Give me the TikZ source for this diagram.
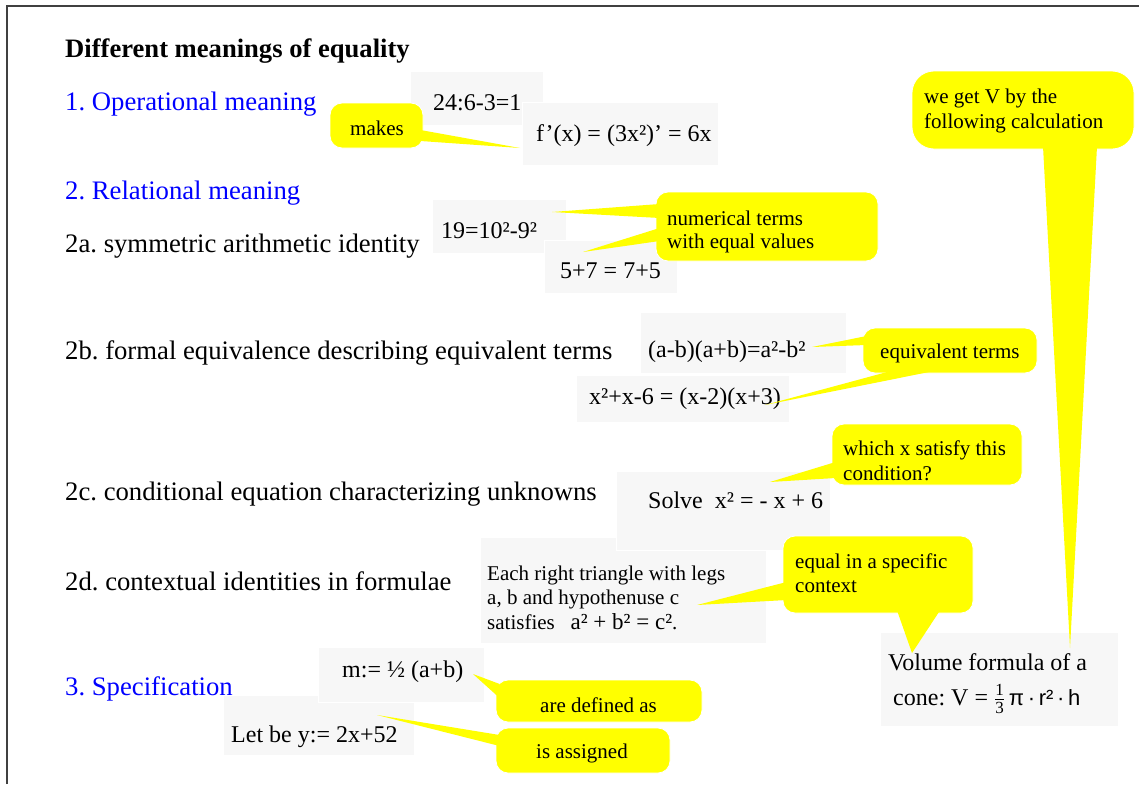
\documentclass[tikz,border=0pt]{standalone}
\usepackage{fontspec}
\setmainfont{Liberation Serif}
\newfontfamily\lsans{Liberation Sans}
\usetikzlibrary{calc}
\definecolor{boxgray}{RGB}{247,247,247}
\definecolor{callyellow}{RGB}{255,255,0}
\definecolor{headblue}{RGB}{0,0,255}
\frenchspacing
\begin{document}
\begin{tikzpicture}[x=1pt,y=-1pt,
  graybox/.style={fill=boxgray, draw=white, line width=1pt, inner sep=0pt},
  callbox/.style={fill=callyellow, draw=white, line width=0.8pt, rounded corners=12pt, inner sep=0pt},
  tail/.style={fill=callyellow},
  txt/.style={anchor=base west, inner sep=0pt, font=\fontsize{24}{28}\selectfont},
  smalltxt/.style={anchor=base west, inner sep=0pt, font=\fontsize{21}{24}\selectfont},
  calltxt/.style={anchor=base west, inner sep=0pt, font=\fontsize{21}{24}\selectfont},
  head/.style={anchor=base west, inner sep=0pt, font=\fontsize{26.7}{30}\selectfont},
  bluehead/.style={head, text=headblue},
  frameline/.style={line width=1.3pt, draw=black!75}
]
\useasboundingbox (0,0) rectangle (1139,784);
\draw[frameline] (7,784) -- (7,6) -- (1139,6);

% headings
\node[head, font=\fontsize{26.6}{30}\selectfont\bfseries] (title) at (65,57) {Different meanings of equality};
\node[bluehead] (h1) at (65,110) {1. Operational meaning};
\node[bluehead] (h2) at (65,199) {2. Relational meaning};
\node[head] (h2a) at (65,252) {2a. symmetric arithmetic identity};
\node[head] (h2b) at (65,359) {2b. formal equivalence describing equivalent terms};
\node[head] (h2c) at (65,500) {2c. conditional equation characterizing unknowns};
\node[head] (h2d) at (65,590) {2d. contextual identities in formulae};
\node[bluehead] (h3) at (65,695) {3. Specification};

% gray boxes
\node[graybox, minimum width=133pt, minimum height=54pt] (bA) at (476.5,98) {};
\node[graybox, minimum width=196pt, minimum height=63pt] (bB) at (620,133.5) {};
\node[graybox, minimum width=134pt, minimum height=54pt] (b19) at (499,226) {};
\node[graybox, minimum width=133pt, minimum height=53pt] (b57) at (610.5,266.5) {};
\node[graybox, minimum width=206pt, minimum height=61pt] (bab) at (743,342.5) {};
\node[graybox, minimum width=213pt, minimum height=47pt] (bx2) at (682.5,398.5) {};
\node[graybox, minimum width=286pt, minimum height=106pt] (btri) at (623,590) {};
\node[graybox, minimum width=214pt, minimum height=79pt] (bsolve) at (723,510.5) {};
\node[graybox, minimum width=191pt, minimum height=60pt] (blet) at (318.5,725) {};
\node[graybox, minimum width=166pt, minimum height=55pt] (bm) at (401,674.5) {};
\node[graybox, minimum width=238pt, minimum height=94pt] (bvol) at (999,679) {};

% box texts
\node[txt] (tA) at (433,110) {24:6-3=1};
\node[txt] (tB) at (536,141) {f’(x) = (3x²)’ = 6x};
\node[txt] (t19) at (441,238) {19=10²-9²};
\node[txt] (t57) at (560,278) {5+7 = 7+5};
\node[txt] (tab) at (648,357) {(a-b)(a+b)=a²-b²};
\node[txt] (tx2) at (589,404) {x²+x-6 = (x-2)(x+3)};
\node[txt] (tsolve) at (648,508) {Solve\ \ x² = - x + 6};
\node[smalltxt] (ttri1) at (487,580) {Each right triangle with legs};
\node[smalltxt] (ttri2) at (487,604) {a, b and hypothenuse c};
\node[smalltxt] (ttri3) at (487,629) {satisfies\ \ \ {\fontsize{23}{26}\selectfont a² + b² = c²}.};
\node[txt] (tm) at (342,677) {m:= ½ (a+b)};
\node[txt] (tlet) at (231,742) {Let be y:= 2x+52};
\node[txt] (tvol1) at (888,670) {Volume formula of a};
\node[txt] (tvol2) at (893,705) {cone: V = $\frac{\mbox{\fontsize{17}{17}\selectfont 1}}{\mbox{\fontsize{17}{17}\selectfont 3}}$\,{\lsans\fontsize{22}{24}\selectfont π\,·\,r²\,·\,h}};

% callout boxes
\node[callbox, minimum width=93pt, minimum height=45pt] (cMakes) at (376.5,125.5) {};
\node[callbox, minimum width=222pt, minimum height=69pt] (cNum) at (767,226.5) {};
\node[callbox, minimum width=174pt, minimum height=45pt] (cEquiv) at (950,350.5) {};
\node[callbox, minimum width=190pt, minimum height=61pt] (cWhich) at (927,454.5) {};
\node[callbox, minimum width=190pt, minimum height=77pt] (cEqual) at (878,574.5) {};
\node[callbox, minimum width=206pt, minimum height=42pt] (cDef) at (599,701) {};
\node[callbox, minimum width=174pt, minimum height=45pt] (cAssign) at (583,750.5) {};
\node[callbox, rounded corners=22pt, minimum width=222pt, minimum height=78pt] (cVol) at (1023,110) {};

% tail tips
\coordinate (tipMakes) at (520,148);
\coordinate (tipNum1) at (552,212);
\coordinate (tipNum2) at (583,252);
\coordinate (tipEq1) at (812,347);
\coordinate (tipEq2) at (765,405);
\coordinate (tipWhich) at (770,482);
\coordinate (tipEqual1) at (697,605);
\coordinate (tipEqual2) at (912,653);
\coordinate (tipDef) at (473,674);
\coordinate (tipAssign) at (377,715);
\coordinate (tipVol) at (1070,648);

% tails
\fill[tail] ($(cMakes.east)+(-3,4.5)$) -- (tipMakes) -- ($(cMakes.east)+(-3,15.5)$) -- cycle;
\fill[tail] ($(cNum.west)+(4,-22.5)$) -- (tipNum1) -- ($(cNum.west)+(4,-8.5)$) -- cycle;
\fill[tail] ($(cNum.west)+(4,1.5)$) -- (tipNum2) -- ($(cNum.west)+(4,14.5)$) -- cycle;
\fill[tail] ($(cEquiv.west)+(4,-14.5)$) -- (tipEq1) -- ($(cEquiv.west)+(4,-5.5)$) -- cycle;
\fill[tail] ($(cEquiv.south)+(-57,-3)$) -- (tipEq2) -- ($(cEquiv.south)+(-13,-3)$) -- cycle;
\fill[tail] ($(cWhich.west)+(4,7.5)$) -- (tipWhich) -- ($(cWhich.west)+(4,23.5)$) -- cycle;
\fill[tail] ($(cEqual.west)+(4,7.5)$) -- (tipEqual1) -- ($(cEqual.west)+(4,25.5)$) -- cycle;
\fill[tail] ($(cEqual.south)+(19,-3)$) -- (tipEqual2) -- ($(cEqual.south)+(62,-3)$) -- cycle;
\fill[tail] ($(cDef.west)+(4,-17)$) -- (tipDef) -- ($(cDef.west)+(4,-3)$) -- cycle;
\fill[tail] ($(cAssign.west)+(4,-15.5)$) -- (tipAssign) -- ($(cAssign.west)+(4,-4.5)$) -- cycle;
\fill[tail] ($(cVol.south)+(20,-3)$) -- (tipVol) -- ($(cVol.south)+(74,-3)$) -- cycle;

% callout texts
\node[calltxt] (xMakes) at (350,135) {makes};
\node[calltxt] (xNum1) at (667,225) {numerical terms};
\node[calltxt] (xNum2) at (667,248) {with equal values};
\node[calltxt] (xEquiv) at (880,358) {equivalent terms};
\node[calltxt] (xWhich1) at (843,455) {which x satisfy this};
\node[calltxt] (xWhich2) at (843,480) {condition?};
\node[calltxt] (xEqual1) at (795,568) {equal in a specific};
\node[calltxt] (xEqual2) at (795,592) {context};
\node[calltxt] (xDef) at (540,712) {are defined as};
\node[calltxt] (xAssign) at (536,758) {is assigned};
\node[calltxt] (xVol1) at (924,103) {we get V by the};
\node[calltxt] (xVol2) at (924,128) {following calculation};
\end{tikzpicture}
\end{document}
